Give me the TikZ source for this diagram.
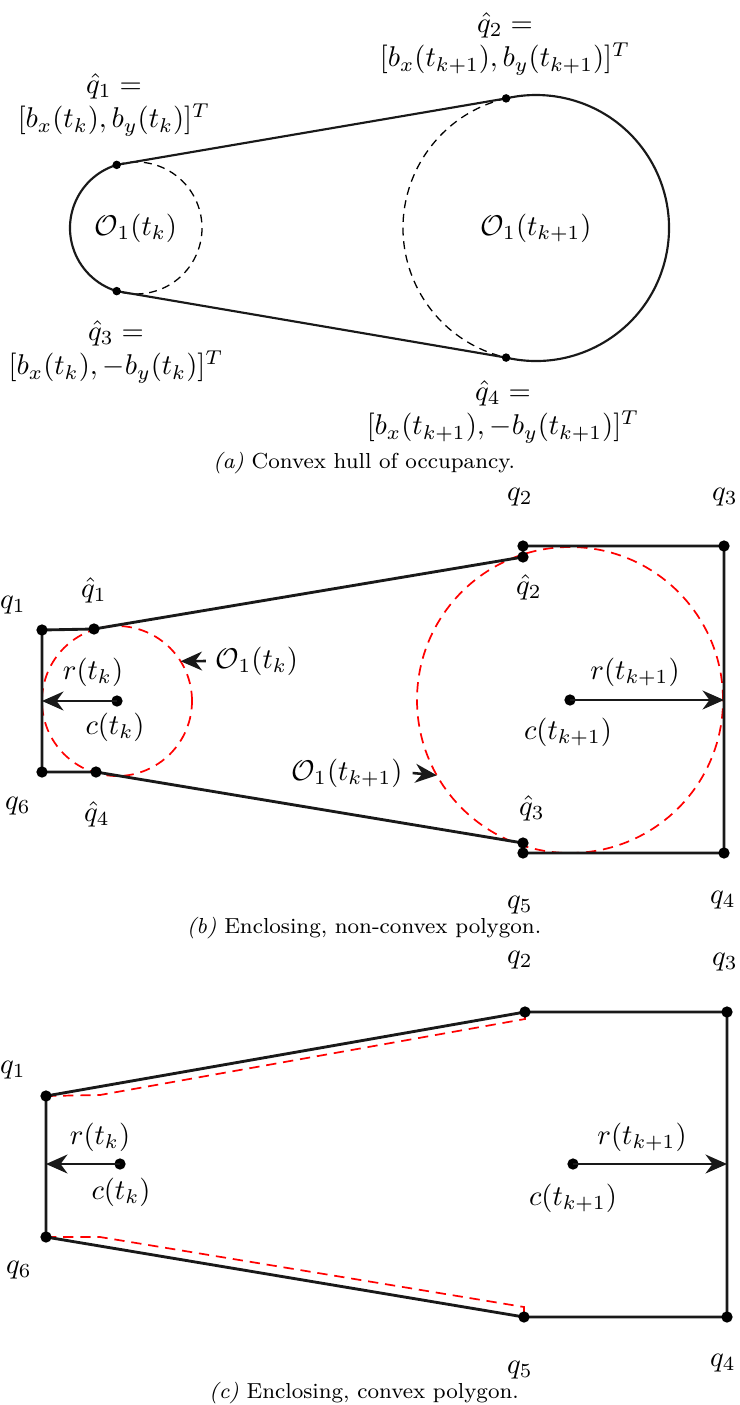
\documentclass[tikz,border=0pt]{standalone}
\usepackage{amsmath}
\usetikzlibrary{arrows.meta,calc}
\tikzset{hull/.style={draw=black!90,line width=1pt,line join=round},
         thinhull/.style={draw=black!90,line width=0.75pt},
         ghost/.style={draw=black,line width=0.45pt,dash pattern=on 2.8pt off 2pt},
         redhull/.style={draw=red,line width=0.6pt,dash pattern=on 3.6pt off 2.4pt},
         radarrow/.style={draw=black!90,line width=0.9pt,-{Stealth[length=7.5pt,width=6.6pt,inset=2.4pt]}},
         dot/.style={circle,fill=black,inner sep=1.4pt},
         smalldot/.style={circle,fill=black,inner sep=1.05pt},
         capt/.style={font=\fontsize{7.6}{9}\selectfont}}

\begin{document}
\begin{tikzpicture}[x=0.35pt,y=0.35pt]
  \useasboundingbox (0,0) rectangle (739,-1405);
  \begin{scope}
    \coordinate (ao1) at (136,-228);
    \coordinate (ao2) at (536,-228);
    \coordinate (ahq1) at ($(ao1)+(107:66)$);
    \coordinate (ahq3) at ($(ao1)+(253:66)$);
    \coordinate (ahq2) at ($(ao2)+(103:133)$);
    \coordinate (ahq4) at ($(ao2)+(257:133)$);
    \draw[ghost] (ahq1) arc[start angle=107,end angle=-107,radius=66];
    \draw[ghost] (ahq2) arc[start angle=103,end angle=257,radius=133];
    \draw[thinhull] (ahq1) arc[start angle=107,end angle=253,radius=66] -- (ahq4)
      arc[start angle=257,end angle=463,radius=133] -- cycle;
    \foreach \p in {ahq1,ahq2,ahq3,ahq4} \node[smalldot] at (\p) {};
    \node at (ao1) {$\mathcal{O}_1(t_k)$};
    \node at (ao2) {$\mathcal{O}_1(t_{k+1})$};
    \node[align=center] (alq1) at (114,-105) {$\hat{q}_1 =$\\$[b_x(t_k), b_y(t_k)]^T$};
    \node[align=center] (alq3) at (116,-352) {$\hat{q}_3 =$\\$[b_x(t_k), -b_y(t_k)]^T$};
    \node[align=center] (alq2) at (505,-44) {$\hat{q}_2 =$\\$[b_x(t_{k+1}), b_y(t_{k+1})]^T$};
    \node[align=center] (alq4) at (503,-412) {$\hat{q}_4 =$\\$[b_x(t_{k+1}), -b_y(t_{k+1})]^T$};
    \node[capt] (acap) at (364,-463) {\textit{(a)} Convex hull of occupancy.};
  \end{scope}
  \begin{scope}
    \coordinate (bo1) at (117,-701);
    \coordinate (bo2) at (570,-700);
    \coordinate (bq1) at (42,-630);
    \coordinate (bhq1) at (94,-629);
    \coordinate (bhq2) at (523,-557);
    \coordinate (bq2) at (523,-546);
    \coordinate (bq3) at (724,-546);
    \coordinate (bq4) at (724,-853);
    \coordinate (bq5) at (523,-853);
    \coordinate (bhq3) at (523,-843);
    \coordinate (bhq4) at (96,-772);
    \coordinate (bq6) at (42,-772);
    \draw[redhull] (bo1) circle[radius=75];
    \draw[redhull] (bo2) circle[radius=153];
    \draw[hull] (bq1) -- (bhq1) -- (bhq2) -- (bq2) -- (bq3) -- (bq4) -- (bq5)
      -- (bhq3) -- (bhq4) -- (bq6) -- cycle;
    \foreach \p in {bq1,bhq1,bhq2,bq2,bq3,bq4,bq5,bhq3,bhq4,bq6,bo1,bo2}
      \node[dot] at (\p) {};
    \draw[radarrow] (bo1) -- (bq1 |- bo1);
    \draw[radarrow] (bo2) -- (bq3 |- bo2);
    \coordinate (btip1) at ($(bo1)+(32:75)$);
    \coordinate (btip2) at ($(bo2)+(209.5:153)$);
    \node (blo1) at (257,-661) {$\mathcal{O}_1(t_k)$};
    \node (blo2) at (347,-773) {$\mathcal{O}_1(t_{k+1})$};
    \draw[radarrow] (blo1.west) -- (btip1);
    \draw[radarrow] (blo2.east) -- (btip2);
    \node at (13,-605) {$q_1$};
    \node at (94,-590) {$\hat{q}_1$};
    \node at (18,-806) {$q_6$};
    \node at (97,-814) {$\hat{q}_4$};
    \node at (93,-672) {$r(t_k)$};
    \node at (115,-727) {$c(t_k)$};
    \node at (520,-497) {$q_2$};
    \node at (725,-497) {$q_3$};
    \node at (529,-587) {$\hat{q}_2$};
    \node at (532,-808) {$\hat{q}_3$};
    \node at (520,-905) {$q_5$};
    \node at (723,-900) {$q_4$};
    \node at (635,-672) {$r(t_{k+1})$};
    \node at (568,-732) {$c(t_{k+1})$};
    \node[capt] (bcap) at (364,-928) {\textit{(b)} Enclosing, non-convex polygon.};
  \end{scope}
  \begin{scope}
    \coordinate (co1) at (120,-1164);
    \coordinate (co2) at (573,-1164);
    \coordinate (cq1) at (46,-1096);
    \coordinate (cq2) at (525,-1012);
    \coordinate (cq3) at (727,-1012);
    \coordinate (cq4) at (727,-1317);
    \coordinate (cq5) at (524,-1317);
    \coordinate (cq6) at (46,-1237);
    \coordinate (ck1) at (100,-1095);
    \coordinate (ck2) at (525,-1019);
    \coordinate (ck3) at (524,-1307);
    \coordinate (ck4) at (100,-1237);
    \draw[redhull] (cq1) -- (ck1) -- (ck2) -- (cq2);
    \draw[redhull] (cq6) -- (ck4) -- (ck3) -- (cq5);
    \draw[hull] (cq1) -- (cq2) -- (cq3) -- (cq4) -- (cq5) -- (cq6) -- cycle;
    \foreach \p in {cq1,cq2,cq3,cq4,cq5,cq6,co1,co2}
      \node[dot] at (\p) {};
    \draw[radarrow] (co1) -- (cq1 |- co1);
    \draw[radarrow] (co2) -- (cq3 |- co2);
    \node at (13,-1070) {$q_1$};
    \node at (520,-960) {$q_2$};
    \node at (725,-962) {$q_3$};
    \node at (19,-1270) {$q_6$};
    \node at (520,-1370) {$q_5$};
    \node at (723,-1363) {$q_4$};
    \node at (100,-1137) {$r(t_k)$};
    \node at (121,-1192) {$c(t_k)$};
    \node at (642,-1137) {$r(t_{k+1})$};
    \node at (573,-1198) {$c(t_{k+1})$};
    \node[capt] (ccap) at (364,-1393) {\textit{(c)} Enclosing, convex polygon.};
  \end{scope}
\end{tikzpicture}
\end{document}
